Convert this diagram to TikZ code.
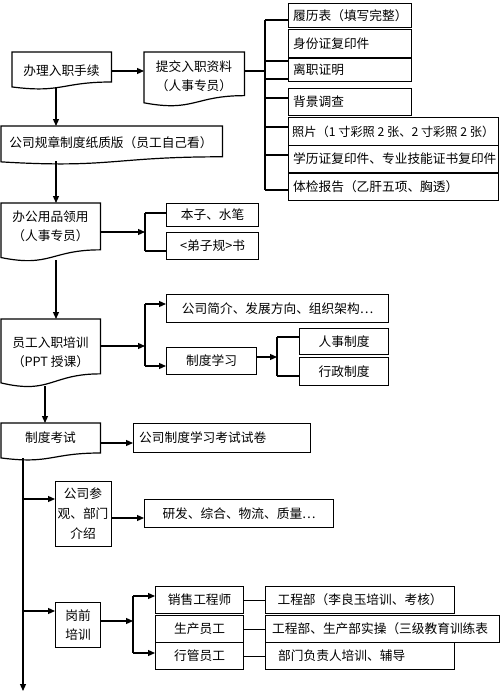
\documentclass[tikz,border=0pt]{standalone}
\usepackage{fontspec}
\newfontfamily\cjk{Noto Sans CJK SC}
\usetikzlibrary{arrows.meta,calc}
\tikzset{
  ln/.style={line width=1.2pt, draw=black},
  arr/.style={ln, -{Triangle[length=7pt,width=6pt]}},
  frame/.style={draw=none, inner sep=0pt, anchor=north west},
  bx/.style={draw=black, line width=1.2pt, inner sep=0pt, anchor=north west},
  txt/.style={font=\cjk\fontsize{12.7}{19}\selectfont, inner sep=0pt, align=center},
}
\newcommand\mybox[5]{\node[bx, minimum width={(#4-#2)*1pt}, minimum height={(#5-#3)*1pt}] (#1) at (#2,#3) {};}
\newcommand\myframe[5]{\node[frame, minimum width={(#4-#2)*1pt}, minimum height={(#5-#3)*1pt}] (#1) at (#2,#3) {};}
\newcommand\mytextc[2]{\node[txt] (#1t) at (#1.center) {#2};}
\newcommand\mytextl[3]{\node[txt, anchor=west] (#1t) at ($(#1.west)+(#2,0)$) {#3};}
\newcommand\docshape[1]{\draw[ln] (#1.north west) -- (#1.north east) -- ($(#1.north east)!0.802!(#1.south east)$) .. controls ($(#1.north)!0.802!(#1.south)$) and ($(#1.north)!1.107!(#1.south)$) .. ($(#1.north west)!0.934!(#1.south west)$) -- cycle;}
\begin{document}
\begin{tikzpicture}[x=1pt,y=-1pt]
\useasboundingbox[fill=white] (0,0) rectangle (500,693);

% document-shaped steps
\myframe{A}{12}{52}{111}{89}\docshape{A}
\node[txt] (At) at (61.5,70.5) {办理入职手续};
\myframe{B}{144}{52}{244}{106}\docshape{B}
\node[txt] (Bt) at (194,76.5) {提交入职资料\\（人事专员）};
\myframe{C}{1}{126}{222}{164}\docshape{C}
\node[txt] (Ct) at (111,143) {公司规章制度纸质版（员工自己看）};
\myframe{D}{1}{203}{100}{261}\docshape{D}
\node[txt] (Dt) at (50.5,226.5) {办公用品领用\\（人事专员）};
\myframe{E}{1}{319}{100}{387}\docshape{E}
\node[txt] (Et) at (50.5,352) {员工入职培训\\（PPT 授课）};
\myframe{F}{1}{423}{100}{460}\docshape{F}
\node[txt] (Ft) at (50.5,438) {制度考试};

% top-right documents list
\mybox{r1}{288}{3}{411}{27}\mytextl{r1}{5}{履历表（填写完整）}
\mybox{r2}{288}{29}{411}{57}\mytextl{r2}{5}{身份证复印件}
\draw[line width=2.6pt] (r2.south west) -- (r2.south east);
\mybox{r3}{288}{57}{411}{81}\mytextl{r3}{5}{离职证明}
\mybox{r4}{288}{88}{411}{115}\mytextl{r4}{5}{背景调查}
\mybox{r5}{288}{117}{498}{145}
\node[txt, anchor=west, font=\cjk\fontsize{12.2}{19}\selectfont] (r5t) at ($(r5.west)+(4,0)$) {照片（1 寸彩照 2 张、2 寸彩照 2 张）};
\mybox{r6}{288}{145}{498}{172}\mytextl{r6}{5}{学历证复印件、专业技能证书复印件}
\mybox{r7}{288}{173}{498}{200}\mytextl{r7}{5}{体检报告（乙肝五项、胸透）}

% office supplies
\mybox{b1}{166}{203}{258}{226}\mytextc{b1}{本子、水笔}
\mybox{b2}{166}{232}{258}{259}\mytextc{b2}{<弟子规>书}

% training
\mybox{c1}{166}{294}{388}{322}\mytextc{c1}{公司简介、发展方向、组织架构…}
\mybox{c2}{166}{347}{256}{374}\mytextc{c2}{制度学习}
\mybox{d1}{299}{328}{388}{354}\mytextc{d1}{人事制度}
\mybox{d2}{299}{357}{388}{385}\mytextc{d2}{行政制度}

% exam
\mybox{G}{133}{423}{310}{452}\mytextl{G}{6}{公司制度学习考试试卷}

% visit
\mybox{H}{55}{481}{111}{546}
\node[txt, font=\cjk\fontsize{12.7}{20}\selectfont] (Ht) at (83,513.5) {公司参\\观、部门\\介绍};
\mybox{I}{144}{499}{333}{527}\mytextc{I}{研发、综合、物流、质量…}

% pre-job training
\mybox{J}{55}{602}{100}{647}\mytextc{J}{岗前\\培训}
\mybox{K1}{155}{586}{243}{613}\mytextc{K1}{销售工程师}
\mybox{K2}{155}{615}{243}{642}\mytextc{K2}{生产员工}
\mybox{K3}{155}{642}{243}{669}\mytextc{K3}{行管员工}
\mybox{L1}{265}{586}{454}{613}\mytextc{L1}{工程部（李良玉培训、考核）}
\mybox{L2}{265}{615}{499}{642}\mytextl{L2}{7}{工程部、生产部实操（三级教育训练表}
\mybox{L3}{265}{642}{454}{669}\mytextl{L3}{13}{部门负责人培训、辅导}

% ---- connectors ----
\coordinate (a1) at (56,87);
\coordinate (c0) at (56,161);
\coordinate (d0) at (56,260);
\coordinate (e0) at (45,386);
\coordinate (t0) at (23,458);
\coordinate (t1) at (23,691);

\draw[arr] (A.east |- 0,71) -- (B.west |- 0,71);
\draw[arr] (a1) -- (a1 |- C.north);
\draw[arr] (c0) -- (c0 |- D.north);
\draw[arr] (d0) -- (d0 |- E.north);
\draw[arr] (e0) -- (e0 |- F.north);
\draw[ln, -{Triangle[length=7pt,width=6pt]}] (t0) -- (t1);

% bracket to document list
\coordinate (s1) at (265,20);
\coordinate (s2) at (265,190);
\draw[ln] (B.east |- 265,71) -- (265,71);
\draw[ln] (s1) -- (s2);
\draw[ln] (s1) -- (r1.west |- s1);
\draw[ln] (265,61) -- (r3.west |- 265,61);
\draw[ln] (265,79) -- (r3.west |- 265,79);
\draw[ln] (265,98) -- (r4.west |- 265,98);
\draw[ln] (265,127) -- (r5.west |- 265,127);
\draw[ln] (265,155) -- (r6.west |- 265,155);
\draw[ln] (s2) -- (r7.west |- s2);

% office supplies bracket
\coordinate (u1) at (145,213);
\coordinate (u2) at (145,251);
\draw[arr] (D.east |- 0,232) -- (145,232);
\draw[ln] (u1) -- (u2);
\draw[ln] (u1) -- (b1.west |- u1);
\draw[ln] (u2) -- (b2.west |- u2);

% training bracket
\coordinate (v1) at (145,304);
\coordinate (v2) at (145,366);
\draw[arr] (E.east |- 0,346) -- (145,346);
\draw[ln] (v1) -- (v2);
\draw[arr] (v1) -- (c1.west |- v1);
\draw[arr] (v2) -- (c2.west |- v2);
\coordinate (w1) at (277,337);
\coordinate (w2) at (277,376);
\draw[arr] (c2.east |- 0,357) -- (277,357);
\draw[ln] (w1) -- (w2);
\draw[ln] (w1) -- (d1.west |- w1);
\draw[ln] (w2) -- (d2.west |- w2);

% exam
\draw[arr] (F.east |- 0,443) -- (G.west |- 0,443);

% visit
\draw[arr] (23,499) -- (H.west |- 0,499);
\draw[arr] (H.east |- 0,518) -- (I.west |- 0,518);

% pre-job
\draw[arr] (23,611) -- (J.west |- 0,611);
\coordinate (k1) at (133,596);
\coordinate (k2) at (133,653);
\draw[arr] (J.east |- 0,621) -- (133,621);
\draw[ln] (k1) -- (k2);
\draw[arr] (k1) -- (K1.west |- k1);
\draw[arr] (k2) -- (K3.west |- k2);
\draw[ln] (K1.east) -- (L1.west);
\draw[ln] (K2.east) -- (L2.west);
\draw[ln] (K3.east) -- (L3.west);
\end{tikzpicture}
\end{document}
